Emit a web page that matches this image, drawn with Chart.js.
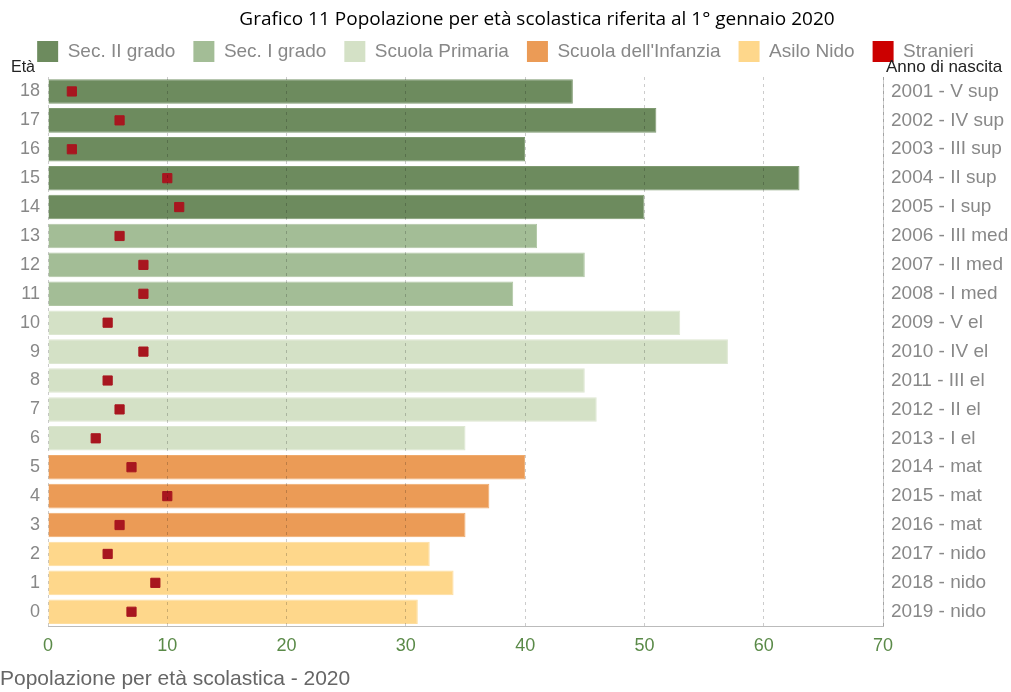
<!DOCTYPE html>
<html>
<head>
<meta charset="utf-8">
<script src="https://cdn.jsdelivr.net/npm/chart.js@4/dist/chart.umd.min.js"></script>
<style>
  html, body { margin: 0; padding: 0; background: #fff; }
  #box { width: 1011px; height: 692px; }
</style>
</head>
<body>
<div id="box"><canvas id="scuolaChart"></canvas></div>
<script>
const titolo = 'Grafico 11 Popolazione per età scolastica riferita al 1° gennaio 2020';
const eta = ['18', '17', '16', '15', '14', '13', '12', '11', '10', '9', '8', '7', '6', '5', '4', '3', '2', '1', '0'];
const anniNascita = ['2001 - V sup', '2002 - IV sup', '2003 - III sup', '2004 - II sup', '2005 - I sup',
  '2006 - III med', '2007 - II med', '2008 - I med',
  '2009 - V el', '2010 - IV el', '2011 - III el', '2012 - II el', '2013 - I el',
  '2014 - mat', '2015 - mat', '2016 - mat',
  '2017 - nido', '2018 - nido', '2019 - nido'];
const popolazione = [44, 51, 40, 63, 50, 41, 45, 39, 53, 57, 45, 46, 35, 40, 37, 35, 32, 34, 31];
const stranieri = [2, 6, 2, 10, 11, 6, 8, 8, 5, 8, 5, 6, 4, 7, 10, 6, 5, 9, 7];
const ordini = ['Sec. II grado', 'Sec. I grado', 'Scuola Primaria', "Scuola dell'Infanzia", 'Asilo Nido'];
const ordinePerEta = [0, 0, 0, 0, 0, 1, 1, 1, 2, 2, 2, 2, 2, 3, 3, 3, 4, 4, 4];
const coloriOrdini = ['#6d8b5e', '#a3bd96', '#d4e1c6', '#eb9b56', '#fed78b'];
const bordiOrdini = ['#7f9a71', '#b0c6a4', '#dde7d2', '#efaa6c', '#fedd9d'];

function datasetOrdine(indice) {
  return {
    type: 'bar',
    label: ordini[indice],
    data: popolazione.map((v, i) => ordinePerEta[i] === indice ? v : null),
    backgroundColor: coloriOrdini[indice],
    borderColor: bordiOrdini[indice],
    borderWidth: 1,
    grouped: false,
    barPercentage: 0.85,
    categoryPercentage: 1,
    xAxisID: 'x',
    yAxisID: 'y',
    order: 2
  };
}

// titolo in alto (spostato a destra come nell'originale) ed etichette degli assi
const etichetteAssi = {
  id: 'etichetteAssi',
  afterDraw(chart) {
    const ctx = chart.ctx;
    const area = chart.chartArea;
    ctx.save();
    ctx.fillStyle = '#000';
    ctx.font = '19px "Open Sans", "Noto Sans", sans-serif';
    ctx.textAlign = 'center';
    ctx.textBaseline = 'middle';
    ctx.fillText(titolo, 537, 20);

    ctx.fillStyle = '#222';
    ctx.textBaseline = 'bottom';
    ctx.textAlign = 'left';
    ctx.font = '16px "Liberation Sans", Arial, sans-serif';
    ctx.fillText('Età', 11, area.top - 1);
    ctx.font = '17px "Liberation Sans", Arial, sans-serif';
    ctx.fillText('Anno di nascita', area.right + 3, area.top - 1);
    ctx.restore();
  }
};

const datasets = ordini.map((_, i) => datasetOrdine(i));
datasets.push({
  type: 'line',
  label: 'Stranieri',
  indexAxis: 'y',
  data: stranieri.map((v, i) => ({ x: v, y: eta[i] })),
  showLine: false,
  pointStyle: 'rect',
  pointRadius: 6.5,
  pointHoverRadius: 6.5,
  pointBackgroundColor: '#a8161f',
  pointBorderColor: '#a8161f',
  backgroundColor: '#cc0000',
  borderColor: '#cc0000',
  xAxisID: 'x',
  yAxisID: 'y',
  order: 1
});

new Chart(document.getElementById('scuolaChart'), {
  type: 'bar',
  data: { labels: eta, datasets: datasets },
  plugins: [etichetteAssi],
  options: {
    indexAxis: 'y',
    responsive: true,
    maintainAspectRatio: false,
    animation: false,
    layout: { padding: { left: 0, right: 0, top: 23, bottom: 0 } },
    plugins: {
      title: { display: false },
      subtitle: {
        display: true,
        position: 'bottom',
        align: 'start',
        text: 'Popolazione per età scolastica - 2020',
        color: '#666',
        font: { family: '"Liberation Sans", Arial, sans-serif', size: 21 },
        padding: { top: 1, bottom: 0 }
      },
      legend: {
        labels: {
          boxWidth: 21,
          boxHeight: 21,
          color: '#888',
          padding: 18,
          font: { family: '"Liberation Sans", Arial, sans-serif', size: 19 },
          generateLabels(chart) {
            return chart.data.datasets.map((d, i) => ({
              text: d.label,
              fillStyle: d.type === 'line' ? '#cc0000' : d.backgroundColor,
              strokeStyle: 'rgba(0,0,0,0)',
              lineWidth: 0,
              fontColor: '#888',
              datasetIndex: i
            }));
          }
        }
      },
      tooltip: { enabled: false }
    },
    scales: {
      x: {
        type: 'linear',
        position: 'bottom',
        min: 0,
        max: 70,
        ticks: {
          stepSize: 10,
          color: '#5a8a48',
          padding: 9,
          font: { family: '"Liberation Sans", Arial, sans-serif', size: 18 }
        },
        grid: {
          z: 1,
          color: 'rgba(0,0,0,0.2)',
          drawTicks: false
        },
        border: { display: true, z: 1, color: '#bbb', dash: [3, 4] }
      },
      xTop: {
        type: 'linear',
        position: 'top',
        min: 0,
        max: 70,
        afterFit(scale) { scale.height = 5; },
        ticks: { display: false },
        grid: { display: false, drawTicks: false },
        border: { display: false }
      },
      y: {
        type: 'category',
        offset: true,
        afterFit(scale) { scale.width = 48; },
        ticks: {
          color: '#888',
          padding: 8,
          font: { family: '"Liberation Sans", Arial, sans-serif', size: 18 }
        },
        grid: { display: false, drawTicks: false },
        border: { display: false }
      },
      y2: {
        type: 'category',
        labels: anniNascita,
        position: 'right',
        offset: true,
        afterFit(scale) { scale.width = 128; },
        ticks: {
          color: '#888',
          padding: 8,
          font: { family: '"Liberation Sans", Arial, sans-serif', size: 19 }
        },
        grid: { display: false, drawTicks: false },
        border: { display: true, color: '#ccc' }
      }
    }
  }
});
</script>
</body>
</html>
